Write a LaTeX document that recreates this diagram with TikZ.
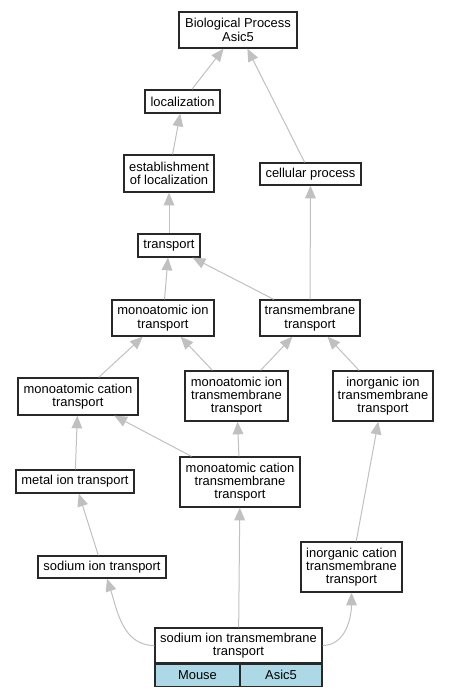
\documentclass[tikz,border=0pt]{standalone}
\usepackage{fontspec}
\setmainfont{Liberation Sans}
\usetikzlibrary{arrows.meta}

\definecolor{edgegray}{RGB}{192,192,192}
\definecolor{boxgray}{RGB}{40,40,40}
\definecolor{cellblue}{RGB}{173,216,230}

\tikzset{every picture/.style={line width=0.75pt}}
\tikzset{
  term/.style={draw=boxgray, line width=1pt, fill=white, inner sep=0pt, align=center,
    font=\fontsize{9.7}{10}\selectfont},
  cell/.style={term, fill=cellblue, minimum height=16.5pt},
  isa/.style={draw=edgegray, -{Triangle[length=9.5pt,width=8pt,fill=edgegray]}}
}

\begin{document}
\begin{tikzpicture}[x=0.75pt,y=0.75pt,yscale=-1]
	\useasboundingbox (0,0) rectangle (449,696);

	% Nodes
	\node[term, minimum width=88.5pt, minimum height=27pt] (bp) at (238,30) {Biological Process\\Asic5};
	\node[term, minimum width=56.25pt, minimum height=17.25pt] (loc) at (182.5,101.5) {localization};
	\node[term, minimum width=67.5pt, minimum height=27.75pt] (est) at (169,173.5) {establishment\\of localization};
	\node[term, minimum width=75.75pt, minimum height=16.5pt] (cell) at (310.5,174) {cellular process};
	\node[term, minimum width=46.5pt, minimum height=17.25pt] (trans) at (169,245.5) {transport};
	\node[term, minimum width=76.5pt, minimum height=27pt] (mit) at (163,318) {monoatomic ion\\transport};
	\node[term, minimum width=75pt, minimum height=27pt] (tmt) at (310,318) {transmembrane\\transport};
	\node[term, minimum width=90pt, minimum height=27.75pt] (mct) at (78,396.5) {monoatomic cation\\transport};
	\node[term, minimum width=77.25pt, minimum height=37.5pt] (mitt) at (236.5,396) {monoatomic ion\\transmembrane\\transport};
	\node[term, minimum width=75pt, minimum height=37.5pt] (iitt) at (383,396) {inorganic ion\\transmembrane\\transport};
	\node[term, minimum width=88.5pt, minimum height=17.25pt] (metal) at (75,481.5) {metal ion transport};
	\node[term, minimum width=90pt, minimum height=37.5pt] (mctt) at (240,482) {monoatomic cation\\transmembrane\\transport};
	\node[term, minimum width=96pt, minimum height=16.5pt] (sit) at (102,567) {sodium ion transport};
	\node[term, minimum width=75.75pt, minimum height=37.5pt] (ictt) at (351.5,567) {inorganic cation\\transmembrane\\transport};
	\node[term, minimum width=125.25pt, minimum height=26.25pt] (stm) at (238.5,645.5) {sodium ion transmembrane\\transport};
	\node[cell, minimum width=63.75pt, anchor=north west] (mouse) at (stm.south west) {Mouse};
	\node[cell, minimum width=61.5pt, anchor=north east] (asic) at (stm.south east) {Asic5};

	%Straight Lines
	\draw[isa] (loc) -- (bp);
	\draw[isa] (cell) -- (bp);
	\draw[isa] (est) -- (loc);
	\draw[isa] (trans) -- (est);
	\draw[isa] (tmt) -- (cell);
	\draw[isa] (tmt) -- (trans);
	\draw[isa] (mit) -- (trans);
	\draw[isa] (mct) -- (mit);
	\draw[isa] (mitt) -- (mit);
	\draw[isa] (mitt) -- (tmt);
	\draw[isa] (iitt) -- (tmt);
	\draw[isa] (metal) -- (mct);
	\draw[isa] (mctt) -- (mct);
	\draw[isa] (mctt) -- (mitt);
	\draw[isa] (ictt) -- (iitt);
	\draw[isa] (sit) -- (metal);
	\draw[isa] (stm) -- (mctt);

	%Curves (yscale=-1 flips the angles)
	\draw[isa] (stm.west) to[out=180, in=72] ([xshift=3.75pt]sit.south);
	\draw[isa] (stm.east) to[out=0, in=90] (ictt.south);

	\end{tikzpicture}
\end{document}
